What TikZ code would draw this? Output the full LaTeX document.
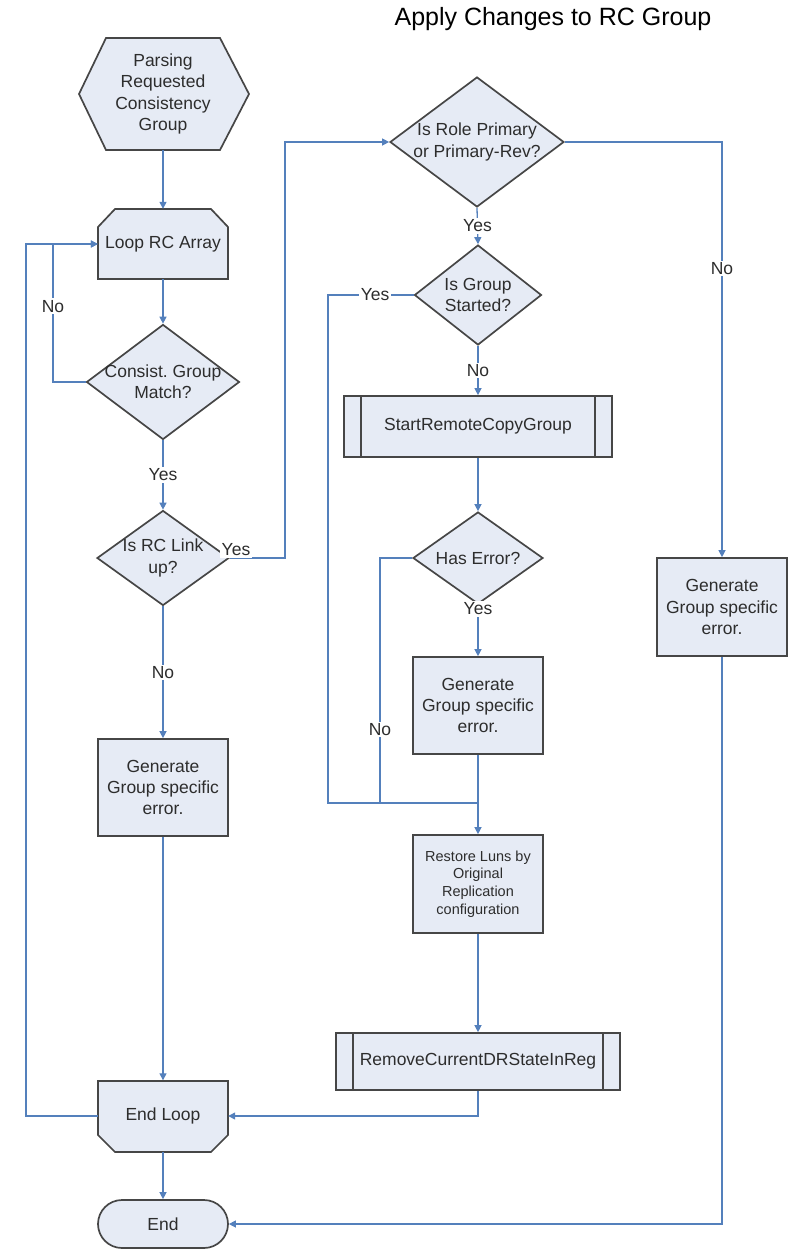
\documentclass[tikz,border=0pt]{standalone}
\usepackage{fontspec}
\setmainfont{Liberation Sans}
\usetikzlibrary{shapes.geometric,arrows.meta}
\frenchspacing
\definecolor{shapefill}{RGB}{230,235,245}
\definecolor{shapeborder}{RGB}{70,70,70}
\definecolor{linecol}{RGB}{84,128,188}
\definecolor{txtcol}{RGB}{45,45,45}
\newcommand\bodyfs{\fontsize{17.5}{21.3}\selectfont}
\newcommand\smallfs{\fontsize{14.5}{17.6}\selectfont}
\tikzset{
  shp/.style={draw=shapeborder, line width=1.7pt, fill=shapefill},
  conn/.style={draw=linecol, line width=1.3pt, -{Triangle[width=7pt,length=7pt]}},
  plainline/.style={draw=linecol, line width=1.3pt},
  txt/.style={text=txtcol, font=\bodyfs, align=center, inner sep=0pt},
  lab/.style={txt, fill=white, inner sep=1.5pt},
  procbox/.style={shp, rectangle, inner sep=0pt, txt},
  holder/.style={rectangle, draw=none, fill=none, inner sep=0pt, txt},
  subproc/.style={procbox, path picture={
      \draw[shapeborder, line width=1.7pt]
        ([xshift=17pt]path picture bounding box.north west) -- ([xshift=17pt]path picture bounding box.south west)
        ([xshift=-17pt]path picture bounding box.north east) -- ([xshift=-17pt]path picture bounding box.south east);}},
  dia/.style={shp, diamond, inner sep=0pt},
  term/.style={shp, rectangle, rounded corners=24pt, inner sep=0pt, txt}
}
\begin{document}
\begin{tikzpicture}[x=1pt,y=-1pt]
\useasboundingbox (0,0) rectangle (809,1256);

% title
\node[text=black, font=\fontsize{25}{30}\selectfont, inner sep=0pt] (title) at (553,19) {Apply Changes to RC Group};

% ---------- left column ----------
\draw[shp] (79,94) -- (106,38) -- (220,38) -- (249,94) -- (220,150) -- (106,150) -- cycle;
\node[holder, minimum width=170, minimum height=112] (hex) at (163,94) {Parsing\\Requested\\Consistency\\Group};

\draw[shp] (98,279) -- (98,227) -- (115,209) -- (211,209) -- (228,227) -- (228,279) -- cycle;
\node[holder, minimum width=130, minimum height=70] (loop) at (163,244) {Loop RC Array};

\node[dia, minimum width=153, minimum height=115] (cons) at (163,382) {};
\node[txt] (consT) at (163,382) {Consist. Group\\Match?};

\node[dia, minimum width=132, minimum height=95] (link) at (163,558) {};
\node[txt] (linkT) at (163,558) {Is RC Link\\up?};

\node[procbox, minimum width=130, minimum height=97] (gen1) at (163,787.5) {Generate\\Group specific\\error.};

\draw[shp] (98,1081) -- (228,1081) -- (228,1135) -- (211,1152) -- (115,1152) -- (98,1135) -- cycle;
\node[holder, minimum width=130, minimum height=71] (endloop) at (163,1116) {End Loop};

\node[term, minimum width=130, minimum height=48] (endn) at (163,1224) {End};

% ---------- middle column ----------
\node[dia, minimum width=174, minimum height=130] (role) at (477,142) {};
\node[txt] (roleT) at (477,142) {Is Role Primary\\or Primary-Rev?};

\node[dia, minimum width=127, minimum height=100] (gs) at (478,295) {};
\node[txt] (gsT) at (478,295) {Is Group\\Started?};

\node[subproc, minimum width=268, minimum height=61] (srcg) at (478,426.5) {StartRemoteCopyGroup};

\node[dia, minimum width=130, minimum height=92] (he) at (478,558) {};
\node[txt] (heT) at (478,558) {Has Error?};

\node[procbox, minimum width=130, minimum height=97] (gen2) at (478,705.5) {Generate\\Group specific\\error.};

\node[procbox, minimum width=130, minimum height=98, font=\smallfs] (rest) at (478,884) {Restore Luns by\\Original\\Replication\\configuration};

\node[subproc, minimum width=284, minimum height=57] (rem) at (478,1061.5) {RemoveCurrentDRStateInReg};

% ---------- right column ----------
\node[procbox, minimum width=130, minimum height=98] (gen3) at (722,607) {Generate\\Group specific\\error.};

\coordinate (merge) at (478,803);

% ---------- connectors ----------
\draw[conn] (hex.south) -- (loop.north);
\draw[conn] (loop.south) -- (cons.north);
\draw[conn] (cons.south) -- node[lab] {Yes} (link.north);
\draw[conn] (cons.west) -- (53,382) -- node[lab, pos=0.55] {No} (53,244) -- (loop.west);
\draw[conn] (endloop.west) -- (26,1116) -- (26,244) -- (loop.west);
\draw[conn] (link.east) -- (285,558) -- (285,142) -- (role.west);
\node[lab] (linkYes) at (236,550) {Yes};
\draw[conn] (link.south) -- node[lab] {No} (gen1.north);
\draw[conn] (gen1.south) -- (endloop.north);
\draw[conn] (endloop.south) -- (endn.north);

\draw[conn] (role.south) -- node[lab] {Yes} (gs.north);
\draw[conn] (role.east) -- (722,142) -- node[lab, pos=0.305] {No} (gen3.north);
\draw[conn] (gen3.south) -- (722,1224) -- (endn.east);
\draw[conn] (gs.south) -- node[lab] {No} (srcg.north);
\draw[plainline] (gs.west) -- node[lab, pos=0.45] {Yes} (328,295) -- (328,803) -- (merge);
\draw[conn] (srcg.south) -- (he.north);
\draw[conn] (he.south) -- node[lab, pos=0.08] {Yes} (gen2.north);
\draw[plainline] (he.west) -- (380,558) -- node[lab, pos=0.7] {No} (380,803) -- (merge);
\draw[conn] (gen2.south) -- (rest.north);
\draw[conn] (rest.south) -- (rem.north);
\draw[conn] (rem.south) -- (478,1116) -- (endloop.east);
\end{tikzpicture}
\end{document}
